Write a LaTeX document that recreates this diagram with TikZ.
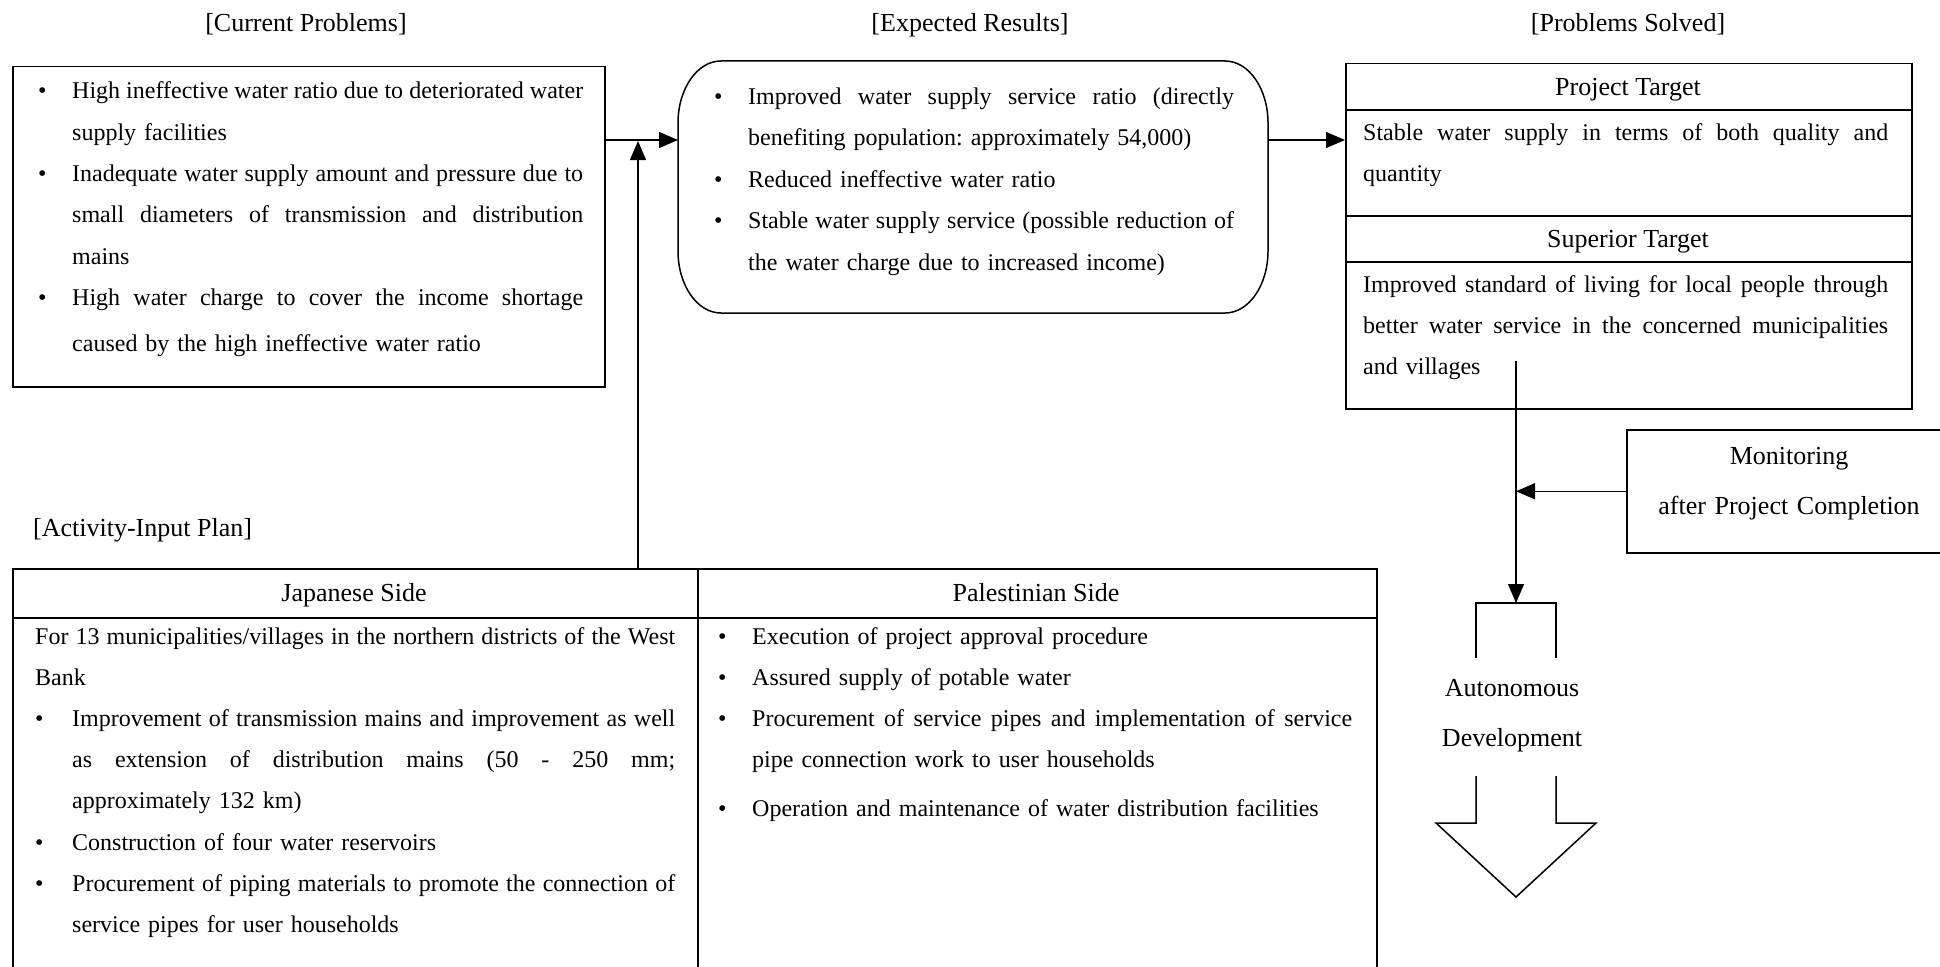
\documentclass[tikz,border=0pt]{standalone}
\usepackage{fontspec}
\setmainfont{Liberation Serif}
\usetikzlibrary{arrows.meta}
\frenchspacing
\newcommand\bulx[1][34pt]{\makebox[#1][l]{\textbullet}}
\newcommand\indx[1][34pt]{\hspace*{#1}}
\newcommand\jusx[2]{\makebox[#1][s]{\spaceskip=0pt\xspaceskip=0pt #2}}
\begin{document}
\begin{tikzpicture}[x=1pt,y=-1pt,
  box/.style={draw, line width=1.5pt, inner sep=0, anchor=north west},
  body/.style={inner sep=0, anchor=base west, font=\fontsize{24}{41.3}\selectfont},
  hd/.style={inner sep=0, anchor=base, font=\fontsize{26}{50}\selectfont},
  arr/.style={line width=1.5pt, -{Triangle[length=19pt,width=16pt]}},
  ln/.style={line width=1.5pt}]
\useasboundingbox (0,0) rectangle (1940,966);
\clip (0,0) rectangle (1940,966);

% headings
\node[hd] (h1) at (306,32) {[Current Problems]};
\node[hd] (h2) at (970,32) {[Expected Results]};
\node[hd] (h3) at (1628,32) {[Problems Solved]};
\node[hd, anchor=base west] (h4) at (33,536) {[Activity-Input Plan]};

% current problems
\node[box, minimum width=592pt, minimum height=320pt] (cp) at (12,66) {};
\node[body, text width=545pt] (cpt) at (38,99) {%
\bulx\jusx{511pt}{High ineffective water ratio due to deteriorated water}\\
\indx supply facilities\\
\bulx\jusx{511pt}{Inadequate water supply amount and pressure due to}\\
\indx\jusx{511pt}{small diameters of transmission and distribution}\\
\indx mains\\
\bulx\jusx{511pt}{High water charge to cover the income shortage}\\[4.5pt]
\indx caused by the high ineffective water ratio};

% expected results (rounded)
\node[inner sep=0, anchor=north west, minimum width=590pt, minimum height=252pt] (er) at (678,61) {};
\draw[ln] (721,61) -- (1225,61) .. controls (1249,61) and (1268,89) .. (1268,123)
  -- (1268,251) .. controls (1268,285) and (1249,313) .. (1225,313)
  -- (721,313) .. controls (697,313) and (678,285) .. (678,251)
  -- (678,123) .. controls (678,89) and (697,61) .. (721,61) -- cycle;
\node[body, font=\fontsize{24}{41.5}\selectfont, text width=522pt] (ert) at (714,104) {%
\bulx\jusx{486pt}{Improved water supply service ratio (directly}\\
\indx benefiting population: approximately 54,000)\\
\bulx Reduced ineffective water ratio\\
\bulx\jusx{486pt}{Stable water supply service (possible reduction of}\\
\indx the water charge due to increased income)};

% problems solved
\node[box, minimum width=566pt, minimum height=345pt] (rb) at (1345,63) {};
\coordinate (d1) at (0,110);
\coordinate (d2) at (0,216);
\coordinate (d3) at (0,262);
\draw[ln] (rb.west |- d1) -- (rb.east |- d1);
\draw[ln] (rb.west |- d2) -- (rb.east |- d2);
\draw[ln] (rb.west |- d3) -- (rb.east |- d3);
\node[hd] (pt) at (1628,95) {Project Target};
\node[hd] (st) at (1628,247) {Superior Target};
\node[body, font=\fontsize{24}{41}\selectfont, text width=525pt] (ptt) at (1363,140) {%
\jusx{525pt}{Stable water supply in terms of both quality and}\\
quantity};
\node[body, font=\fontsize{24}{41}\selectfont, text width=525pt] (stt) at (1363,292) {%
\jusx{525pt}{Improved standard of living for local people through}\\
\jusx{525pt}{better water service in the concerned municipalities}\\
and villages};

% monitoring
\node[box, minimum width=326pt, minimum height=123pt] (mon) at (1626,429) {};
\node[hd, text width=326pt, align=center] (mt) at (1789,464) {Monitoring\\after Project Completion};

% activity-input plan table
\node[box, minimum width=685pt, minimum height=420pt] (jp) at (12,568) {};
\node[box, minimum width=679pt, minimum height=420pt] (ps) at (697,568) {};
\coordinate (d4) at (0,618);
\draw[ln] (jp.west |- d4) -- (ps.east |- d4);
\node[hd] (jph) at (354,601) {Japanese Side};
\node[hd] (psh) at (1036,601) {Palestinian Side};
\node[body, font=\fontsize{24}{41.2}\selectfont, text width=640pt] (jpt) at (35,644) {%
\jusx{640pt}{For 13 municipalities/villages in the northern districts of the West}\\
Bank\\
\bulx[37pt]\jusx{603pt}{Improvement of transmission mains and improvement as well}\\
\indx[37pt]\jusx{603pt}{as extension of distribution mains (50 - 250 mm;}\\
\indx[37pt]approximately 132 km)\\
\bulx[37pt]Construction of four water reservoirs\\
\bulx[37pt]\jusx{603pt}{Procurement of piping materials to promote the connection of}\\
\indx[37pt]service pipes for user households};
\node[body, font=\fontsize{24}{41}\selectfont, text width=634pt] (pst) at (718,644) {%
\bulx Execution of project approval procedure\\
\bulx Assured supply of potable water\\
\bulx\jusx{600pt}{Procurement of service pipes and implementation of service}\\
\indx pipe connection work to user households\\[8pt]
\bulx Operation and maintenance of water distribution facilities};

% autonomous development hollow arrow
\draw[ln] (1476,658) -- (1476,603) -- (1556,603) -- (1556,658);
\draw[ln] (1476,776) -- (1476,823) -- (1436,823) -- (1516,897) -- (1596,823) -- (1556,823) -- (1556,776);
\node[hd, text width=220pt, align=center] (ad) at (1512,696) {Autonomous\\Development};

% connectors
\coordinate (yA) at (0,140);
\draw[arr] (cp.east |- yA) -- (er.west |- yA);
\draw[arr] (er.east |- yA) -- (rb.west |- yA);
\coordinate (jn) at (638,141);
\draw[arr] (jp.north -| jn) -- (jn);
\coordinate (vs) at (1516,361);
\coordinate (adtop) at (1516,603);
\draw[arr] (vs) -- (adtop);
\draw[arr] (mon.west) -- (mon.west -| vs);
\end{tikzpicture}
\end{document}
